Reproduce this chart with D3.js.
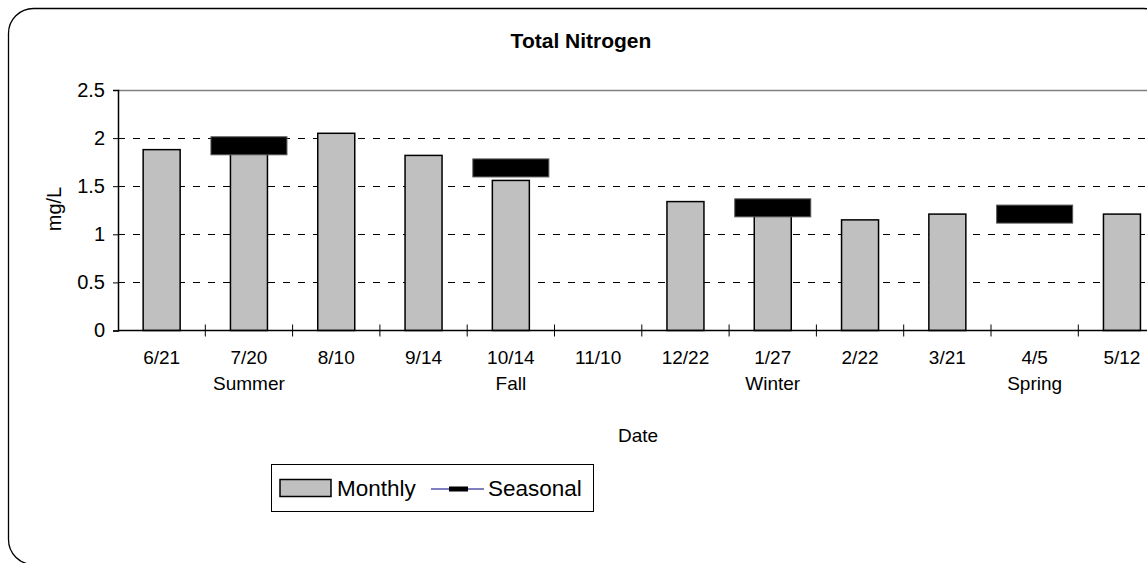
<!DOCTYPE html>
<html>
<head>
<meta charset="utf-8">
<script src="https://cdn.jsdelivr.net/npm/d3@7"></script>
<style>
  body { margin: 0; background: #fff; }
  svg { display: block; font-family: Arial, "Liberation Sans", sans-serif; }
</style>
</head>
<body>
<svg id="chart" width="1147" height="563"></svg>
<script>
// sampling dates along the x axis
const dates = ['6/21', '7/20', '8/10', '9/14', '10/14', '11/10', '12/22', '1/27', '2/22', '3/21', '4/5', '5/12'];
// season label under the date where the seasonal value sits
const seasons = ['', 'Summer', '', '', 'Fall', '', '', 'Winter', '', '', 'Spring', ''];
// mg/L values
const monthly = [1.88, 1.9, 2.05, 1.82, 1.56, null, 1.34, 1.25, 1.15, 1.21, null, 1.21];
const seasonal = [null, 1.92, null, null, 1.69, null, null, 1.275, null, null, 1.21, null];
const yTicks = [0, 0.5, 1, 1.5, 2, 2.5];

const svg = d3.select('#chart');

// rounded outer frame (the right side runs off the picture)
svg.append('rect')
  .attr('x', 8.5).attr('y', 8.5)
  .attr('width', 1160).attr('height', 556)
  .attr('rx', 25).attr('ry', 25)
  .attr('fill', 'none')
  .attr('stroke', '#000')
  .attr('stroke-width', 1.3);

const plot = { left: 118, top: 90, bottom: 330.5, band: 87.3 };

const x = d3.scaleBand()
  .domain(dates)
  .range([plot.left, plot.left + plot.band * dates.length])
  .paddingInner(0)
  .paddingOuter(0);

const y = d3.scaleLinear()
  .domain([0, 2.5])
  .range([plot.bottom, plot.top]);

// gridlines
svg.append('g')
  .selectAll('line')
  .data(yTicks.filter(d => d > 0 && d < 2.5))
  .join('line')
  .attr('x1', plot.left).attr('x2', x.range()[1])
  .attr('y1', d => Math.round(y(d)) + 0.5).attr('y2', d => Math.round(y(d)) + 0.5)
  .attr('stroke', '#000')
  .attr('stroke-dasharray', '7,8');

// plot area top border
svg.append('line')
  .attr('x1', plot.left).attr('x2', x.range()[1])
  .attr('y1', plot.top + 0.5).attr('y2', plot.top + 0.5)
  .attr('stroke', '#808080')
  .attr('stroke-width', 1.5);

// monthly bars
const barW = 37;
svg.append('g')
  .selectAll('rect')
  .data(dates.map((d, i) => ({ date: d, v: monthly[i] })).filter(d => d.v !== null))
  .join('rect')
  .attr('x', d => x(d.date) + x.bandwidth() / 2 - barW / 2)
  .attr('y', d => y(d.v))
  .attr('width', barW)
  .attr('height', d => plot.bottom - y(d.v))
  .attr('fill', '#c0c0c0')
  .attr('stroke', '#000')
  .attr('stroke-width', 1.5);

// y axis
const yAxis = svg.append('g')
  .attr('transform', `translate(${plot.left},0)`)
  .call(d3.axisLeft(y).tickValues(yTicks).tickFormat(d3.format('')).tickSize(5).tickPadding(8));
yAxis.select('.domain').attr('stroke', '#000').attr('stroke-width', 1.5);
yAxis.selectAll('.tick line').attr('stroke', '#000');
yAxis.selectAll('.tick text').attr('font-size', 20).attr('fill', '#000').attr('font-family', 'Arial, "Liberation Sans", sans-serif');

// x axis line with cross ticks on band edges
svg.append('line')
  .attr('x1', plot.left).attr('x2', x.range()[1])
  .attr('y1', plot.bottom).attr('y2', plot.bottom)
  .attr('stroke', '#000').attr('stroke-width', 1.5);
svg.append('g')
  .selectAll('line')
  .data(dates.slice(1))
  .join('line')
  .attr('x1', d => x(d)).attr('x2', d => x(d))
  .attr('y1', plot.bottom - 6).attr('y2', plot.bottom + 6)
  .attr('stroke', '#000');

// date labels
svg.append('g')
  .selectAll('text')
  .data(dates)
  .join('text')
  .attr('x', d => x(d) + x.bandwidth() / 2)
  .attr('y', 364)
  .attr('text-anchor', 'middle')
  .attr('font-size', 19)
  .text(d => d);

// season labels
svg.append('g')
  .selectAll('text')
  .data(dates.map((d, i) => ({ date: d, s: seasons[i] })).filter(d => d.s))
  .join('text')
  .attr('x', d => x(d.date) + x.bandwidth() / 2)
  .attr('y', 390)
  .attr('text-anchor', 'middle')
  .attr('font-size', 19)
  .text(d => d.s);

// seasonal markers
const mW = 76, mH = 18;
svg.append('g')
  .selectAll('rect')
  .data(dates.map((d, i) => ({ date: d, v: seasonal[i] })).filter(d => d.v !== null))
  .join('rect')
  .attr('x', d => x(d.date) + x.bandwidth() / 2 - mW / 2)
  .attr('y', d => y(d.v) - mH / 2)
  .attr('width', mW)
  .attr('height', mH)
  .attr('fill', '#000')
  .attr('stroke', '#555')
  .attr('stroke-width', 1);

// title and axis titles
svg.append('text')
  .attr('x', 581).attr('y', 48)
  .attr('text-anchor', 'middle')
  .attr('font-size', 21)
  .attr('font-weight', 'bold')
  .text('Total Nitrogen');

svg.append('text')
  .attr('transform', 'translate(61,209) rotate(-90)')
  .attr('text-anchor', 'middle')
  .attr('font-size', 20)
  .text('mg/L');

svg.append('text')
  .attr('x', 638).attr('y', 442)
  .attr('text-anchor', 'middle')
  .attr('font-size', 19)
  .text('Date');

// legend
const lg = svg.append('g');
lg.append('rect')
  .attr('x', 271.5).attr('y', 464.5)
  .attr('width', 322).attr('height', 47)
  .attr('fill', '#fff').attr('stroke', '#000');
lg.append('rect')
  .attr('x', 280).attr('y', 479.5)
  .attr('width', 51).attr('height', 17)
  .attr('fill', '#c0c0c0').attr('stroke', '#000').attr('stroke-width', 1.5);
lg.append('text')
  .attr('x', 337).attr('y', 496)
  .attr('font-size', 22.5)
  .text('Monthly');
lg.append('line')
  .attr('x1', 431).attr('x2', 484)
  .attr('y1', 489).attr('y2', 489)
  .attr('stroke', '#000080').attr('stroke-width', 1.2);
lg.append('rect')
  .attr('x', 449).attr('y', 486.5)
  .attr('width', 19).attr('height', 5)
  .attr('fill', '#000');
lg.append('text')
  .attr('x', 488).attr('y', 496)
  .attr('font-size', 22.5)
  .text('Seasonal');
</script>
</body>
</html>
